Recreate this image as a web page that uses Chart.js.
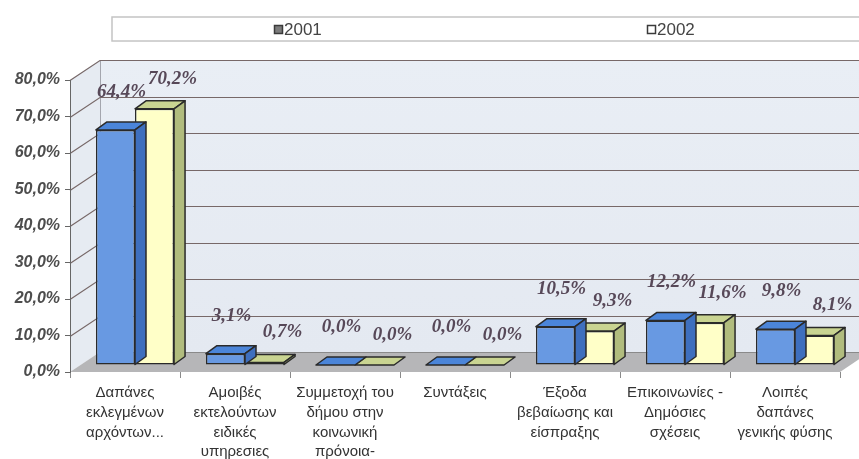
<!DOCTYPE html>
<html>
<head>
<meta charset="utf-8">
<script src="https://cdn.jsdelivr.net/npm/chart.js@4/dist/chart.umd.min.js"></script>
<style>
  html, body { margin: 0; padding: 0; background: #fff; }
  #wrap { width: 859px; height: 459px; position: relative; }
</style>
</head>
<body>
<div id="wrap"><canvas id="c"></canvas></div>
<script>
// Expense categories (x axis)
const categories = [
  ["Δαπάνες", "εκλεγμένων", "αρχόντων..."],
  ["Αμοιβές", "εκτελούντων", "ειδικές", "υπηρεσιες"],
  ["Συμμετοχή του", "δήμου στην", "κοινωνική", "πρόνοια-"],
  ["Συντάξεις"],
  ["Έξοδα", "βεβαίωσης και", "είσπραξης"],
  ["Επικοινωνίες -", "Δημόσιες", "σχέσεις"],
  ["Λοιπές", "δαπάνες", "γενικής φύσης"]
];
// Share of spending per year, in percent
const seriesNames = ["2001", "2002"];
const values2001 = [64.4, 3.1, 0.0, 0.0, 10.5, 12.2, 9.8];
const values2002 = [70.2, 0.7, 0.0, 0.0, 9.3, 11.6, 8.1];
// Value axis range
const yMin = 0, yMax = 80, yStep = 10;

const fmtPct = v => v.toFixed(1).replace('.', ',') + '%';

// colours of the bar faces: front, top, side
const faces = [
  { front: '#6899e2', top: '#4b85d9', side: '#3e6fbe', legend: '#7c7c7c' },
  { front: '#ffffc8', top: '#c9d491', side: '#b1bc7e', legend: '#ffffff' }
];

// depth of the box (walls) and of each bar, and the bar row placement
const WALL = { dx: 30, dy: -20 };
const BAR = { dx: 11, dy: -8 };
const ROW = { dx: 10, dy: -7 };

const boxPlugin = {
  id: 'box3d',
  beforeDraw(chart) {
    const { ctx, chartArea: a, scales: { y } } = chart;
    const y0 = y.getPixelForValue(yMin);
    const yT = y.getPixelForValue(yMax);
    ctx.save();
    ctx.fillStyle = '#ffffff';
    ctx.fillRect(0, 0, chart.width, chart.height);

    // back wall
    const g = ctx.createLinearGradient(0, yT + WALL.dy, 0, y0 + WALL.dy);
    g.addColorStop(0, '#e9eef5');
    g.addColorStop(1, '#e4e9f1');
    ctx.fillStyle = g;
    ctx.fillRect(a.left + WALL.dx, yT + WALL.dy, chart.width - a.left - WALL.dx, y0 - yT);

    // left wall
    ctx.fillStyle = '#e6ebf2';
    ctx.beginPath();
    ctx.moveTo(a.left, y0);
    ctx.lineTo(a.left, yT);
    ctx.lineTo(a.left + WALL.dx, yT + WALL.dy);
    ctx.lineTo(a.left + WALL.dx, y0 + WALL.dy);
    ctx.closePath();
    ctx.fill();
    ctx.strokeStyle = '#a4a6ae';
    ctx.lineWidth = 1;
    ctx.beginPath();
    ctx.moveTo(a.left + WALL.dx + 0.5, yT + WALL.dy);
    ctx.lineTo(a.left + WALL.dx + 0.5, y0 + WALL.dy);
    ctx.stroke();

    // floor
    ctx.fillStyle = '#b6b6b8';
    ctx.beginPath();
    ctx.moveTo(a.left, y0);
    ctx.lineTo(a.right, y0);
    ctx.lineTo(a.right + WALL.dx, y0 + WALL.dy);
    ctx.lineTo(a.left + WALL.dx, y0 + WALL.dy);
    ctx.closePath();
    ctx.fill();

    // gridlines on the walls
    ctx.strokeStyle = '#776868';
    ctx.lineWidth = 1.2;
    for (let v = yMin + yStep; v <= yMax; v += yStep) {
      const py = Math.round(y.getPixelForValue(v)) + 0.5;
      ctx.beginPath();
      ctx.moveTo(a.left, py);
      ctx.lineTo(a.left + WALL.dx, py + WALL.dy);
      ctx.lineTo(chart.width, py + WALL.dy);
      ctx.stroke();
    }
    ctx.strokeStyle = '#8a8a8a';
    ctx.lineWidth = 1;
    ctx.beginPath();
    ctx.moveTo(a.left + WALL.dx, y0 + WALL.dy + 0.5);
    ctx.lineTo(chart.width, y0 + WALL.dy + 0.5);
    ctx.stroke();

    // legend frame
    ctx.fillStyle = '#ffffff';
    ctx.strokeStyle = '#c4c4c4';
    ctx.lineWidth = 1.5;
    ctx.fillRect(112, 17, chart.width - 112, 24);
    ctx.strokeRect(112, 17, chart.width + 10 - 112, 24);
    ctx.restore();
  },
  beforeDatasetsDraw(chart) {
    chart.ctx.save();
    chart.ctx.translate(ROW.dx, ROW.dy);
  },
  afterDatasetDraw(chart, args) {
    const ctx = chart.ctx;
    const f = faces[args.index];
    ctx.save();
    ctx.lineWidth = 1.5;
    ctx.strokeStyle = '#2a2a2a';
    ctx.lineJoin = 'round';
    args.meta.data.forEach(bar => {
      const { x, y, base, width } = bar.getProps(['x', 'y', 'base', 'width'], true);
      const l = x - width / 2, r = x + width / 2;
      // top face
      ctx.fillStyle = f.top;
      ctx.beginPath();
      ctx.moveTo(l, y);
      ctx.lineTo(l + BAR.dx, y + BAR.dy);
      ctx.lineTo(r + BAR.dx, y + BAR.dy);
      ctx.lineTo(r, y);
      ctx.closePath();
      ctx.fill();
      ctx.stroke();
      // side face
      if (base - y > 0.5) {
        ctx.fillStyle = f.side;
        ctx.beginPath();
        ctx.moveTo(r, y);
        ctx.lineTo(r + BAR.dx, y + BAR.dy);
        ctx.lineTo(r + BAR.dx, base + BAR.dy);
        ctx.lineTo(r, base);
        ctx.closePath();
        ctx.fill();
        ctx.stroke();
      }
    });
    ctx.restore();
  },
  afterDatasetsDraw(chart) {
    const ctx = chart.ctx;
    ctx.restore();
    // value labels
    ctx.save();
    ctx.font = 'italic bold 19px "Liberation Serif", serif';
    ctx.fillStyle = '#574858';
    ctx.textAlign = 'center';
    ctx.textBaseline = 'middle';
    chart.data.datasets.forEach((ds, i) => {
      const meta = chart.getDatasetMeta(i);
      const lift = i === 0 ? 38 : 30;
      const shift = i === 0 ? 6 : 18;
      meta.data.forEach((bar, j) => {
        const { x, y } = bar.getProps(['x', 'y'], true);
        ctx.fillText(fmtPct(ds.data[j]), x + ROW.dx + shift, y + ROW.dy - lift);
      });
    });
    ctx.restore();
  },
  afterDraw(chart) {
    // legend entries
    const ctx = chart.ctx;
    const spots = [274, 647];
    ctx.save();
    ctx.font = '17px "Liberation Sans", Arial, sans-serif';
    ctx.textBaseline = 'middle';
    chart.data.datasets.forEach((ds, i) => {
      const x = spots[i];
      ctx.fillStyle = faces[i].legend;
      ctx.fillRect(x, 25, 8, 9);
      ctx.strokeStyle = '#3a3a3a';
      ctx.lineWidth = 1.5;
      ctx.strokeRect(x + 0.5, 25.5, 8, 8);
      ctx.fillStyle = '#444';
      ctx.fillText(ds.label, x + 10, 30);
    });
    ctx.restore();
  }
};

new Chart(document.getElementById('c'), {
  type: 'bar',
  data: {
    labels: categories,
    datasets: [
      { label: seriesNames[0], data: values2001, backgroundColor: faces[0].front },
      { label: seriesNames[1], data: values2002, backgroundColor: faces[1].front }
    ]
  },
  options: {
    responsive: true,
    maintainAspectRatio: false,
    animation: false,
    devicePixelRatio: 1,
    layout: { padding: { top: 80, right: 19, left: 0, bottom: 0 } },
    datasets: {
      bar: {
        borderColor: '#2a2a2a',
        borderWidth: 1.5,
        borderSkipped: false,
        categoryPercentage: 0.71,
        barPercentage: 1,
        clip: false
      }
    },
    plugins: {
      legend: { display: false },
      tooltip: { enabled: false }
    },
    scales: {
      x: {
        afterFit(s) { s.height = 87; },
        grid: { drawOnChartArea: false, tickLength: 6, color: '#8a8a8a' },
        border: { display: false },
        ticks: {
          padding: 5,
          color: '#333',
          font: { family: '"Liberation Sans", Arial, sans-serif', size: 15, lineHeight: 1.32 },
          maxRotation: 0,
          autoSkip: false
        }
      },
      y: {
        min: yMin,
        max: yMax,
        afterFit(s) { s.width = 70; },
        grid: { drawOnChartArea: false, tickLength: 5, color: '#666' },
        border: { display: true, color: '#666', width: 1 },
        ticks: {
          stepSize: yStep,
          padding: 5,
          color: '#4d4d4d',
          font: { family: '"Liberation Sans", Arial, sans-serif', size: 16, style: 'italic', weight: 'bold' },
          callback: v => fmtPct(v)
        }
      }
    }
  },
  plugins: [boxPlugin]
});
</script>
</body>
</html>
